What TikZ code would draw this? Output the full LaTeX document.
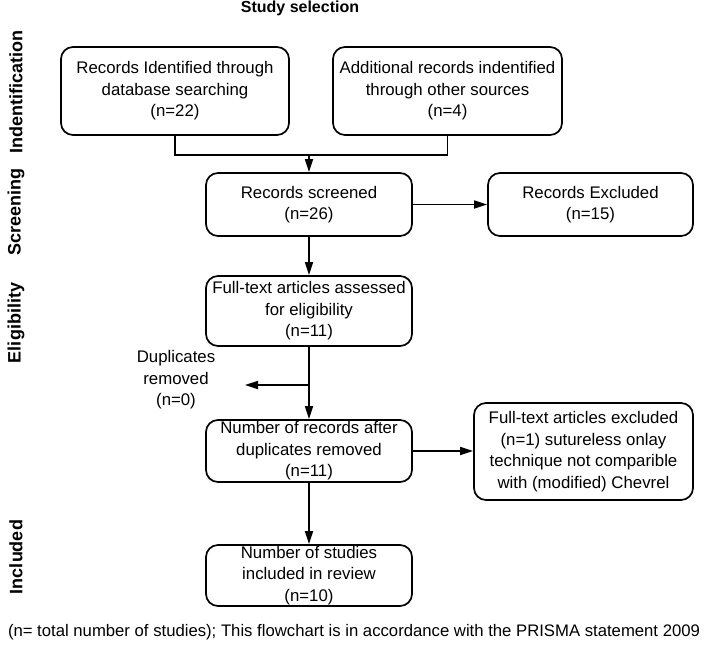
\documentclass[tikz,border=0pt]{standalone}
\usepackage{fontspec}
\setmainfont{Liberation Sans}
\usetikzlibrary{arrows.meta}
\begin{document}
\begin{tikzpicture}[x=1pt,y=-1pt,
  box/.style={draw,line width=1.7pt,rounded corners=12pt,align=center,inner sep=0pt,
    font=\fontsize{16.8}{21.5}\selectfont},
  lab/.style={rotate=90,font=\bfseries\fontsize{18}{20}\selectfont},
  txt/.style={align=center,font=\fontsize{16.8}{21.5}\selectfont},
  conn/.style={line width=1.7pt},
  arr/.style={line width=1.7pt,-{Triangle[length=13pt,width=8pt]}}]
\useasboundingbox (0,0) rectangle (708,645);
\node[font=\bfseries\fontsize{16}{18}\selectfont] (title) at (300,8) {Study selection};
\node[lab] (l1) at (16,92) {Indentification};
\node[lab] (l2) at (16,212) {Screening};
\node[lab] (l3) at (16,323) {Eligibility};
\node[lab] (l4) at (16,557) {Included};
\node[box,minimum width=228pt,minimum height=88pt] (b1) at (175,91) {Records Identified through\\database searching\\(n=22)};
\node[box,minimum width=229pt,minimum height=88pt] (b2) at (447.5,91) {Additional records indentified\\through other sources\\(n=4)};
\node[box,minimum width=206pt,minimum height=63pt] (b3) at (309,204.5) {Records screened\\(n=26)};
\node[box,minimum width=205pt,minimum height=63pt] (b4) at (590.5,204.5) {Records Excluded\\(n=15)};
\node[box,minimum width=206pt,minimum height=70pt] (b5) at (309,311) {Full-text articles assessed\\for eligibility\\(n=11)};
\node[box,minimum width=206pt,minimum height=62pt] (b6) at (309,451) {Number of records after\\duplicates removed\\(n=11)};
\node[box,minimum width=219pt,minimum height=97pt] (b7) at (583.5,451.5) {Full-text articles excluded\\(n=1) sutureless onlay\\technique not comparible\\with (modified) Chevrel};
\node[box,minimum width=206pt,minimum height=61pt] (b8) at (309,575.5) {Number of studies\\included in review\\(n=10)};
\node[txt] (dup) at (176,380) {Duplicates\\removed\\(n=0)};
\node[txt,inner sep=0pt,font=\fontsize{16.7}{21.5}\selectfont] (foot) at (354,632) {(n= total number of studies); This flowchart is in accordance with the PRISMA statement 2009};
\coordinate (m) at (309,155);
\coordinate (dj) at (309,385);
\coordinate (de) at (245,385);
\draw[conn] (b1.south) -- (b1.south |- m) -- (b2.south |- m) -- (b2.south);
\draw[arr] (m) -- (b3.north);
\draw[arr] (b3.east) -- (b4.west);
\draw[arr] (b3.south) -- (b5.north);
\draw[arr] (b5.south) -- (b6.north);
\draw[arr] (dj) -- (de);
\draw[arr] (b6.east) -- (b6.east -| b7.west);
\draw[arr] (b6.south) -- (b8.north);
\end{tikzpicture}
\end{document}
